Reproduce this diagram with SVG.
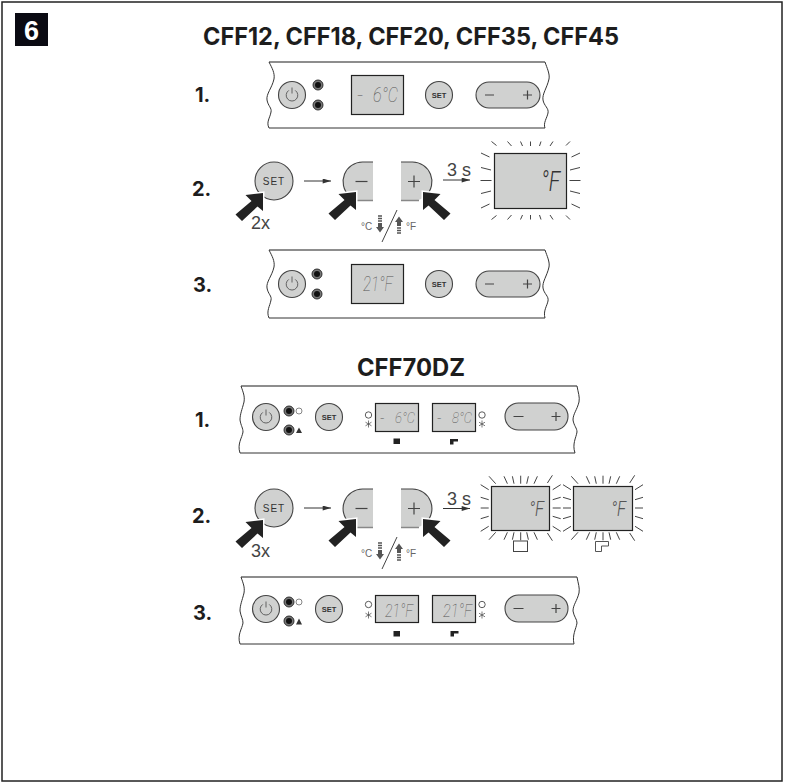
<svg xmlns="http://www.w3.org/2000/svg" width="786" height="783" viewBox="0 0 786 783">
<style>
.t{font-family:"Inter","Liberation Sans",sans-serif;font-weight:700;fill:#1d1d1d}
.title{font-size:24px}
.n{font-size:20px}
.s{font-family:"Liberation Sans",sans-serif;fill:#444}
.btn{fill:#d0d1d0;stroke:#444;stroke-width:1.1}
.fillonly{fill:#d0d1d0;stroke:none}
.edge{fill:none;stroke:#444;stroke-width:1.1}
.disp{fill:#cfd0cf;stroke:#222;stroke-width:1.2}
.seg{font-family:"Roboto","Liberation Sans",sans-serif;font-style:italic;font-weight:100;fill:#555}
.top{fill:none;stroke:#8d8d8d;stroke-width:2}
.ray{fill:none;stroke:#444;stroke-width:1}
.thin{fill:none;stroke:#333;stroke-width:1}
.sym{stroke:#444;stroke-width:1.2;fill:none}
.set{font-family:"Liberation Sans",sans-serif;fill:#333;text-anchor:middle}
.lab{font-size:10px;fill:#666}
.t3{font-size:18px}
.t2x{font-size:18px}
</style>
<defs>
<marker id="ah" viewBox="0 0 10 6" refX="10" refY="3" markerWidth="10" markerHeight="5" markerUnits="userSpaceOnUse" orient="auto"><path d="M0 0L10 3L0 6Z" fill="#333"/></marker>
<g id="pw"><circle r="13.500" class="btn"/><path d="M-3.200-4.600A5.800 5.800 0 1 0 3.200-4.600M0-7.500V-1.500" fill="none" stroke="#555" stroke-width=".9"/></g>
<g id="led"><circle r="5" fill="#777" stroke="#222" stroke-width=".9"/><circle r="3" fill="#111"/></g>
<g id="setb"><circle r="13.500" class="btn"/><text y="2.600" font-size="7.500" font-weight="700" class="set">SET</text></g>
<path id="blk" d="M0 0L-17.500 2L-11.500 8L-27.500 21.500L-21 28L-5.500 13.500L0 18Z" fill="#222" stroke="#fff" stroke-width="3" paint-order="stroke"/>
<path id="rays" class="ray" d="M-39-39L-34-35M-23-39L-19-34.500M-10-39L-8-34.500M0-39V-34.500M10.500-39L9-34.500M22.500-39L19.500-34.500M39.500-39L35.500-35M-39 39L-34 35M-23 39L-19 34.500M-10 39L-8 34.500M0 39V34.500M10.500 39L9 34.500M22.500 39L19.500 34.500M39.500 39L35.500 35M-49.500-27.500L-41-23.500M-49.500-13L-39.500-10.500M-50 0H-39M-49.500 13L-39.500 10.500M-49.500 27.500L-41 23.500M49.500-27.500L41-23.500M49.500-13L39.500-10.500M50 0H39M49.500 13L39.500 10.500M49.500 27.500L41 23.500"/>
<path id="rays2" class="ray" d="M-31.700-31.700L-25-24.300M-16.700-31.700L-13.300-24.300M-8.300-31.700L-6.700-24.300M0-32.300V-24.300M7.700-31.700L6-24.300M16.700-31.700L13.300-24.300M31.700-32.700L26.700-25M-31.700 31.700L-25 24.300M-16.700 31.700L-13.300 24.300M-8.300 31.700L-6.700 24.300M0 32.300V24.300M7.700 31.700L6 24.300M16.700 31.700L13.300 24.300M31.700 32.700L26.700 25M-40-23.300L-32-18.300M-40-10.700L-32-8.300M-40 0H-32M-40 10.700L-32 8.300M-40 23.300L-32 18.300M40-23.300L32-18.300M40-10.700L32-8.300M40 0H32M40 10.700L32 8.300M40 23.300L32 18.300"/>
<g id="pill"><rect class="btn" width="64" height="26" rx="13"/><path class="sym" d="M9 13H18M47 13H56M51.500 8.500V17.500"/></g>
<g id="pill2"><rect class="btn" width="63" height="27" rx="13.500"/><path class="sym" d="M8.500 13.500H18.500M46.500 13.500H55.500M51 9V18"/></g>
<g id="flake"><path d="M0-3.500V3.500M-3-1.800L3 1.800M-3 1.800L3-1.800" stroke="#444" stroke-width=".7"/></g>
<path id="sq2" d="M0 0H8V2.500H3.500V5.500H0Z" fill="#222"/>
<g id="down"><path d="M-2-7H2M-2-4.500H2M-2-2H2" stroke="#555" stroke-width="1.400"/><path d="M-2 0H2V4H4L0 9.500L-4 4H-2Z" fill="#555"/></g>
<g id="up"><path d="M-2 7H2M-2 4.500H2M-2 2H2" stroke="#555" stroke-width="1.400"/><path d="M-2 0H2V-4H4L0-9.500L-4-4H-2Z" fill="#555"/></g>
<g id="half-minus"><path class="fillonly" d="M373 0H362.500A19.500 19.500 0 0 0 362.500 39H373Z"/><path class="edge" d="M373 0H362.500A19.500 19.500 0 0 0 349 33.500"/><path d="M356 38.500H373" stroke="#888" stroke-width="1.500"/><path class="sym" d="M355.500 19.500H367.500"/></g>
<g id="half-plus"><path class="fillonly" d="M401 0H412.500A19.500 19.500 0 0 1 412.500 39H401Z"/><path class="edge" d="M401 0H412.500A19.500 19.500 0 0 1 426 33.500"/><path d="M401 38.500H419" stroke="#888" stroke-width="1.500"/><path class="sym" d="M408 19.500H420M414 13.500V25.500"/></g>
</defs>

<g id="frame"><rect x="2" y="2" width="780" height="779" fill="#fff" stroke="#222" stroke-width="1.500"/></g>
<g id="badge"><rect x="15" y="13" width="33" height="33" fill="#0a0a12"/><text x="31.500" y="40" font-size="27" font-family="Liberation Sans,sans-serif" font-weight="700" fill="#fff" text-anchor="middle">6</text></g>
<text class="t title" x="203" y="45" textLength="416" lengthAdjust="spacingAndGlyphs">CFF12, CFF18, CFF20, CFF35, CFF45</text>
<text class="t title" x="357" y="376" textLength="108" lengthAdjust="spacingAndGlyphs">CFF70DZ</text>
<g class="t n">
<text x="195" y="102">1.</text><text x="192" y="196">2.</text><text x="193" y="292">3.</text>
<text x="195" y="427">1.</text><text x="192" y="523">2.</text><text x="193" y="620">3.</text>
</g>

<g id="a-step1">
<path class="top" d="M269 62H545"/>
<path class="thin" d="M269 128H545M269 62C272 68 275 73 274 79C272 88 266 94 267 100C268 106 272 108 271 112C270 118 266 122 269 128M545 62C547 68 550 74 549 79C547 88 542 94 543 100C544 106 549 108 548 113C547 118 543 123 545 128"/>
<use href="#pw" x="292" y="95"/><use href="#led" x="318" y="85"/><use href="#led" x="318" y="105"/>
<rect class="disp" x="351.500" y="75.500" width="52" height="39"/>
<text class="seg" x="357" y="102" font-size="21">-</text><text class="seg" x="373" y="102" font-size="21" textLength="25" lengthAdjust="spacingAndGlyphs">6°C</text>
<use href="#setb" x="439" y="95"/><use href="#pill" x="476" y="82"/>
</g>

<g id="a-step2">
<circle class="btn" cx="274" cy="181" r="19"/><text class="set" x="274" y="185" font-size="10" letter-spacing="1">SET</text>
<use href="#blk" x="263" y="193"/>
<text class="s t2x" x="251" y="229">2x</text>
<path class="thin" d="M304 181H331" marker-end="url(#ah)"/>
<use href="#half-minus" y="162"/><use href="#half-plus" y="162"/>
<use href="#blk" x="356" y="192"/>
<use href="#blk" transform="translate(423 192) scale(-1 1)"/>
<text class="s lab" x="361" y="230">°C</text><text class="s lab" x="406" y="230">°F</text>
<use href="#down" x="380" y="223"/><use href="#up" x="399" y="226"/>
<path d="M397 210L382 242" stroke="#444" stroke-width="1" fill="none"/>
<text class="s t3" x="447" y="176">3 s</text>
<path class="thin" d="M443 180H470" marker-end="url(#ah)"/>
<rect class="disp" x="494.500" y="153.500" width="72" height="55"/>
<use href="#rays" x="530.500" y="180.500"/>
<text class="seg" x="541" y="191" font-size="27" style="font-weight:300;fill:#333" textLength="19" lengthAdjust="spacingAndGlyphs">°F</text>
</g>

<g id="a-step3">
<path class="top" d="M269 250H545"/>
<path class="thin" d="M269 318H545M269 250C272 256 275 261 274 267C272 276 266 282 267 288C268 294 272 296 271 300C270 306 266 311 269 318M545 250C547 256 550 262 549 267C547 276 542 282 543 288C544 294 549 296 548 301C547 306 543 311 545 318"/>
<use href="#pw" x="292" y="284"/><use href="#led" x="317" y="274"/><use href="#led" x="317" y="294"/>
<rect class="disp" x="351.500" y="264.500" width="52" height="39"/>
<text class="seg" x="363" y="291" font-size="21" textLength="30" lengthAdjust="spacingAndGlyphs">21°F</text>
<use href="#setb" x="439" y="284"/><use href="#pill" x="476" y="271"/>
</g>

<g id="b-step1">
<path class="top" d="M241 386H577"/>
<path class="thin" d="M240 453H575M241 386C243 392 245 396 244 402C242 410 240 414 240 420C241 426 243 428 243 432C242 438 237 444 240 453M577 386C578 392 580 397 579 402C577 410 573 414 573 420C574 426 577 428 577 432C576 438 572 444 575 453"/>
<use href="#pw" x="266" y="417"/><use href="#led" x="289" y="411"/><use href="#led" x="289" y="430"/>
<circle cx="299" cy="411" r="3" fill="#fff" stroke="#555" stroke-width=".7"/><path d="M296 433L299 427.500L302 433Z" fill="#333"/>
<use href="#setb" x="329" y="417"/>
<circle cx="368.500" cy="415" r="3.200" fill="#fff" stroke="#333" stroke-width=".8"/><use href="#flake" x="368.500" y="424"/>
<rect class="disp" x="375.500" y="403.500" width="43" height="28"/>
<text class="seg" x="380" y="423" font-size="15">-</text><text class="seg" x="395" y="423" font-size="15" textLength="20" lengthAdjust="spacingAndGlyphs">6°C</text>
<rect class="disp" x="432.500" y="403.500" width="43" height="28"/>
<text class="seg" x="437" y="423" font-size="15">-</text><text class="seg" x="452" y="423" font-size="15" textLength="20" lengthAdjust="spacingAndGlyphs">8°C</text>
<circle cx="482" cy="415" r="3.200" fill="#fff" stroke="#333" stroke-width=".8"/><use href="#flake" x="482" y="424"/>
<rect x="393.500" y="438.500" width="6.500" height="5.500" fill="#222"/><use href="#sq2" x="450" y="439"/>
<use href="#pill2" x="505" y="403"/>
</g>

<g id="b-step2">
<circle class="btn" cx="274" cy="508" r="19"/><text class="set" x="274" y="512" font-size="10" letter-spacing="1">SET</text>
<use href="#blk" x="263" y="520"/>
<text class="s t2x" x="251" y="557">3x</text>
<path class="thin" d="M304 508H331" marker-end="url(#ah)"/>
<use href="#half-minus" y="489"/><use href="#half-plus" y="489"/>
<use href="#blk" x="356" y="519"/>
<use href="#blk" transform="translate(423 519) scale(-1 1)"/>
<text class="s lab" x="361" y="557">°C</text><text class="s lab" x="406" y="557">°F</text>
<use href="#down" x="380" y="550"/><use href="#up" x="399" y="553"/>
<path d="M397 537L382 569" stroke="#444" stroke-width="1" fill="none"/>
<text class="s t3" x="447" y="505">3 s</text>
<path class="thin" d="M443 508.500H470" marker-end="url(#ah)"/>
<rect class="disp" x="491.500" y="486.500" width="58" height="44"/>
<use href="#rays2" x="520.700" y="508"/>
<text class="seg" x="529" y="516" font-size="21" style="font-weight:300" textLength="15" lengthAdjust="spacingAndGlyphs">°F</text>
<rect class="disp" x="573.500" y="486.500" width="59" height="44"/>
<use href="#rays2" x="603" y="508"/>
<text class="seg" x="611" y="516" font-size="21" style="font-weight:300" textLength="15" lengthAdjust="spacingAndGlyphs">°F</text>
<rect x="513.500" y="541" width="14" height="10.500" fill="#fff" stroke="#444"/>
<path d="M595.500 551.500V541.500H608.500V546H601.500V551.500Z" fill="#fff" stroke="#555"/>
</g>

<g id="b-step3">
<path class="top" d="M241 577H577"/>
<path class="thin" d="M240 644H574M241 577C243 583 245 587 244 593C242 601 240 605 240 611C241 617 243 619 243 623C242 629 237 635 240 644M577 577C578 583 580 588 579 593C577 601 573 605 573 611C574 617 577 619 577 623C576 629 572 635 574 644"/>
<use href="#pw" x="266" y="609"/><use href="#led" x="289" y="602"/><use href="#led" x="289" y="621"/>
<circle cx="299" cy="602" r="3" fill="#fff" stroke="#555" stroke-width=".7"/><path d="M296 624.500L299 618.500L302 624.500Z" fill="#333"/>
<use href="#setb" x="329" y="609"/>
<circle cx="368.500" cy="604.500" r="3.200" fill="#fff" stroke="#333" stroke-width=".8"/><use href="#flake" x="368.500" y="615"/>
<rect class="disp" x="375.500" y="595.500" width="43" height="27"/>
<text class="seg" x="385" y="617" font-size="18" textLength="28" lengthAdjust="spacingAndGlyphs">21°F</text>
<rect class="disp" x="432.500" y="595.500" width="43" height="27"/>
<text class="seg" x="443" y="617" font-size="18" textLength="29" lengthAdjust="spacingAndGlyphs">21°F</text>
<circle cx="482" cy="604.500" r="3.200" fill="#fff" stroke="#333" stroke-width=".8"/><use href="#flake" x="482" y="615"/>
<rect x="393.500" y="631" width="6.500" height="5.500" fill="#222"/><use href="#sq2" x="450.500" y="631"/>
<use href="#pill2" x="505" y="595"/>
</g>
</svg>
